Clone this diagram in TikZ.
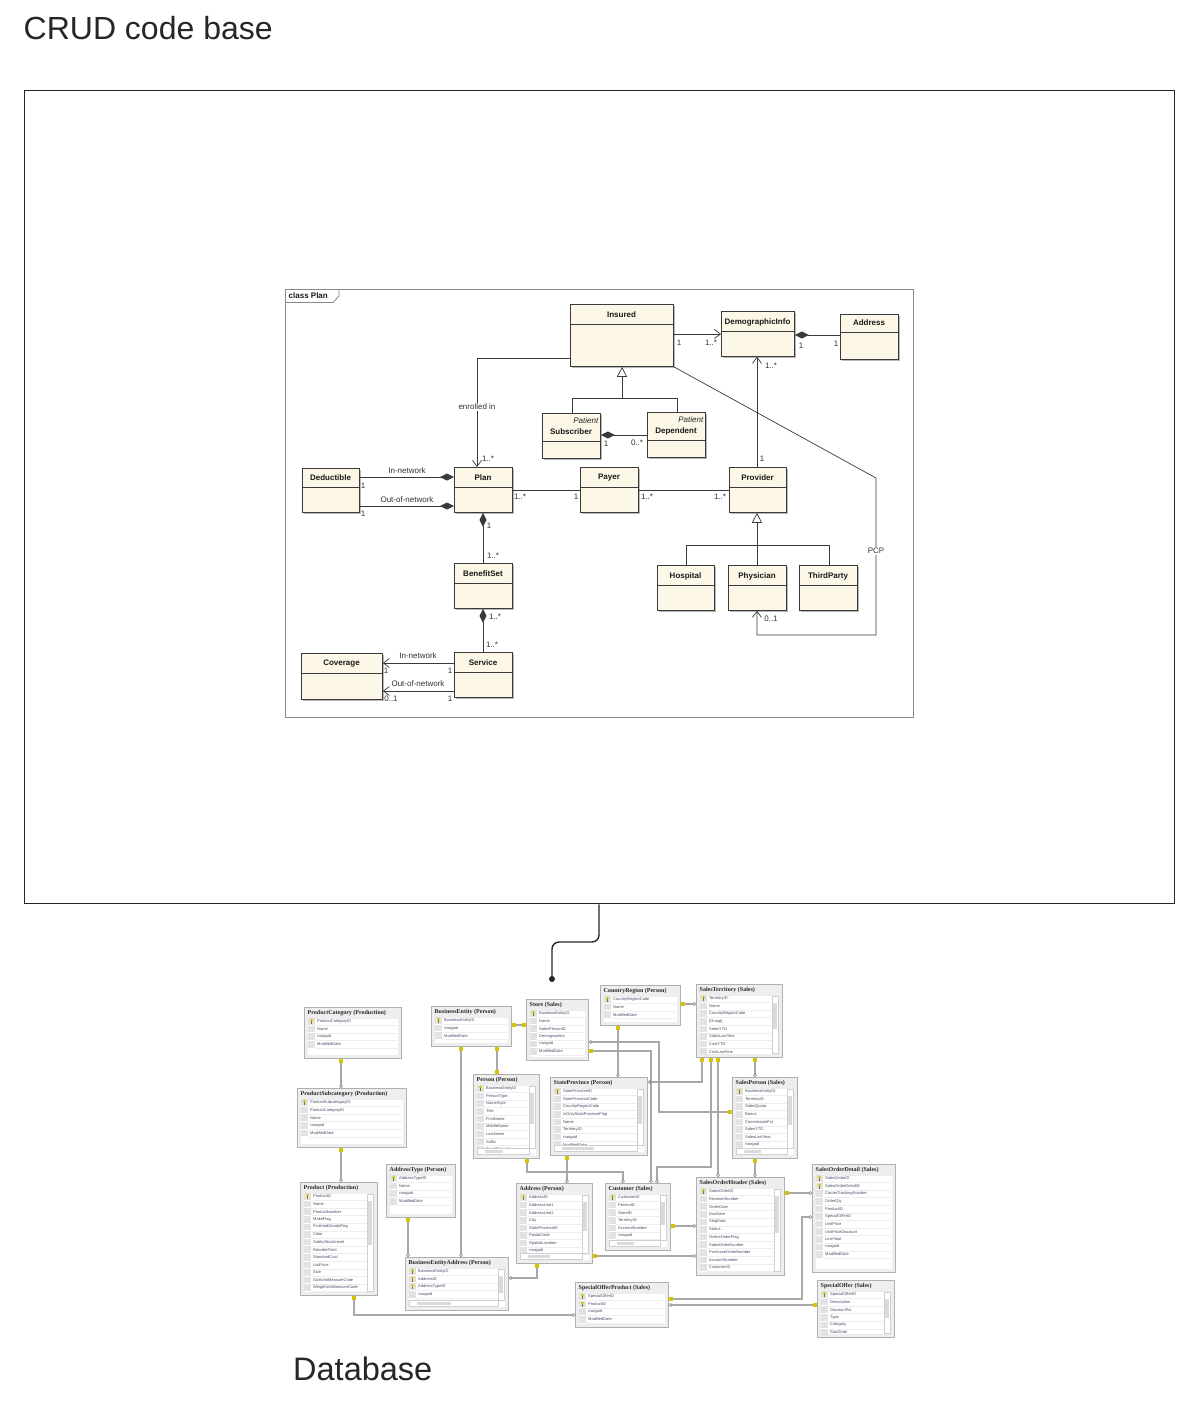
\documentclass[tikz,border=0pt]{standalone}
\usepackage{fontspec}
\setmainfont{Liberation Sans}
\newfontfamily\dbfont{Liberation Serif}
\usetikzlibrary{arrows.meta,calc}
\definecolor{cream}{HTML}{FCF7E6}
\definecolor{umlline}{HTML}{3A3A3A}
\definecolor{umltext}{HTML}{333333}
\definecolor{framegrey}{HTML}{8A8A8A}
\definecolor{shadowc}{HTML}{B8B8B8}
\definecolor{relgrey}{HTML}{A8A8A8}
\definecolor{keyyel}{HTML}{D6C400}
\definecolor{tblborder}{HTML}{B0B0B0}
\definecolor{tblbg}{HTML}{EEEEEE}
\definecolor{rowtxt}{HTML}{4A4A66}
\definecolor{rowsel}{HTML}{E2E2E2}
\definecolor{rowline}{HTML}{EDEDED}
\definecolor{scrollc}{HTML}{CFCFCF}
\definecolor{thumbc}{HTML}{DADADA}

\newcommand\umlclass[7]{%
  \fill[shadowc] (#2+2,#3+2) rectangle (#4+2,#5+2);
  \node[clsbox, minimum width={(#4-#2)*1pt}, minimum height={(#5-#3)*1pt}, anchor=north west] (#1) at (#2,#3) {};
  \draw[umlline, line width=0.7pt] (#2,#3+#6) -- (#4,#3+#6);
  \node[clsname] (#1-name) at ({(#2+#4)/2},#3+#6-9) {#7};
}
\newcommand\keyicon[2]{%
  \fill[keyyel] (#1,#2-1.3) circle (1.5pt);
  \draw[keyyel!60!black, line width=0.5pt] (#1,#2-0.2) -- (#1,#2+2.6);
}
\newcommand\dbtable[9]{%
  \node[tbl, minimum width={(#4-#2)*1pt}, minimum height={(#5-#3)*1pt}, anchor=north west] (#1) at (#2,#3) {};
  \fill[white] (#2+3,#3+11.5) rectangle (#4-3,#5-3);
  \draw[rowline] (#2+3,#3+11.5) rectangle (#4-3,#5-3);
  \node[tbltitle, anchor=west] (#1-title) at (#2+3.5,#3+6.5) {#6};
  \foreach \r [count=\i] in {#9} {
    \pgfmathsetmacro\ry{#3+14.5+(\i-1)*7.6}
    \fill[rowsel] (#2+4,\ry-3.3) rectangle (#2+11,\ry+3.3);
    \draw[rowline, line width=0.4pt] (#2+11,\ry+3.8) -- (#4-4,\ry+3.8);
    \node[rowtext, anchor=west] (#1-r\i) at (#2+13,\ry) {\r};
    \ifnum\i>#7\else\keyicon{#2+7.5}{\ry}\fi
  }
  \ifnum#8>1 \def\dbvb{10}\else\def\dbvb{4}\fi
  \ifnum#8>0
    \filldraw[fill=white, draw=scrollc, line width=0.4pt] (#4-10,#3+12.5) rectangle (#4-4,#5-\dbvb);
    \fill[thumbc] (#4-9,#3+19) rectangle (#4-5,{#3+12+0.45*(#5-#3)});
  \fi
  \ifnum#8>1
    \filldraw[fill=white, draw=scrollc, line width=0.4pt] (#2+4,#5-9.5) rectangle (#4-10,#5-4);
    \fill[thumbc] (#2+12,#5-8.5) rectangle ({#2+0.45*(#4-#2)},#5-5);
  \fi
}

\begin{document}
\begin{tikzpicture}[x=1pt,y=-1pt,
  every node/.style={inner sep=0pt},
  clsbox/.style={draw=umlline, fill=cream, line width=0.8pt},
  clsname/.style={font=\bfseries\fontsize{8}{9.6}\selectfont, text=black!90},
  stereo/.style={font=\itshape\fontsize{8}{9.6}\selectfont, text=black!85},
  lbl/.style={font=\fontsize{8}{9.6}\selectfont, text=umltext},
  assoc/.style={draw=umlline, line width=0.7pt},
  nav/.style={-{Straight Barb[length=6pt,width=9pt,line width=0.7pt]}},
  compS/.style={{Diamond[length=14pt,width=7pt]}-},
  compE/.style={-{Diamond[length=14pt,width=7pt]}},
  gen/.style={-{Triangle[open,length=10pt,width=10pt,fill=white]}},
  tbl/.style={draw=tblborder, fill=tblbg, line width=0.9pt},
  tbltitle/.style={font=\dbfont\bfseries\fontsize{6}{7}\selectfont, text=black!85},
  rowtext/.style={font=\fontsize{4}{5}\selectfont, text=rowtxt},
  dbrel/.style={draw=relgrey, line width=1.4pt,
    {Circle[open,length=3.5pt,width=3.5pt,line width=0.6pt,color=gray]}-{Rectangle[length=4pt,width=4.5pt,color=keyyel]}},
  dbrelkk/.style={draw=relgrey, line width=1.4pt,
    {Rectangle[length=4pt,width=4.5pt,color=keyyel]}-{Rectangle[length=4pt,width=4.5pt,color=keyyel]}}
]
\useasboundingbox (0,0) rectangle (1202,1408);
\fill[white] (0,0) rectangle (1202,1408);

% titles
\node[anchor=base west, font=\fontsize{32}{38}\selectfont, text=black!85] (title) at (23.5,39.5) {CRUD code base};
\node[anchor=base west, font=\fontsize{32.5}{39}\selectfont, text=black!85] (dblabel) at (293,1380) {Database};

% outer frame
\node[draw=black!85, line width=1.4pt, minimum width=1150pt, minimum height=813pt, anchor=north west] (frame) at (24,90) {};

% connector to database
\node[circle, fill=black!85, minimum size=6pt] (dot) at (552,979) {};
\draw[line width=1.4pt, black!85, rounded corners=7pt] (599,0 |- frame.south) |- (552,942) -- (dot.center);

% ---------------- UML class diagram ----------------
\node[draw=framegrey, line width=0.9pt, fill=white, minimum width=628pt, minimum height=428pt, anchor=north west] (umlframe) at (285,289) {};
\draw[framegrey, line width=0.8pt] (285,302.5) -- (333,302.5) -- (339,296) -- (339,289);
\node[anchor=west, font=\bfseries\fontsize{8}{9.6}\selectfont, text=black!90] (umltab) at (288.5,296) {class Plan};

\umlclass{insured}{570}{304}{673}{366}{20}{Insured}
\umlclass{demo}{721}{311}{794}{356}{20}{DemographicInfo}
\umlclass{address}{840}{314}{898}{359}{18}{Address}
\umlclass{subscriber}{542}{413}{600}{458}{28}{Subscriber}
\umlclass{dependent}{647}{412}{705}{457}{28}{Dependent}
\umlclass{deductible}{302}{468}{359}{512}{19}{Deductible}
\umlclass{plan}{454}{467}{512}{512}{20}{Plan}
\umlclass{payer}{580}{467}{638}{512}{20}{Payer}
\umlclass{provider}{729}{467}{786}{512}{20}{Provider}
\umlclass{benefit}{454}{563}{512}{608}{20}{BenefitSet}
\umlclass{service}{454}{652}{512}{697}{20}{Service}
\umlclass{coverage}{301}{653}{382}{699}{20}{Coverage}
\umlclass{hospital}{657}{565}{714}{610}{20}{Hospital}
\umlclass{physician}{728}{565}{786}{610}{20}{Physician}
\umlclass{thirdparty}{799}{565}{857}{610}{20}{ThirdParty}
\node[stereo, anchor=east] (subscriber-st) at (598.5,421) {Patient};
\node[stereo, anchor=east] (dependent-st) at (703.5,420) {Patient};

% Insured -> DemographicInfo
\draw[assoc, nav] (insured.east |- 0,334) -- (demo.west |- 0,334);
\node[lbl] (m1) at (679,343) {1};
\node[lbl] (m2) at (711,343) {1..*};
% DemographicInfo <>-- Address
\draw[assoc, compS] (demo.east |- 0,335) -- (address.west |- 0,335);
\node[lbl] (m3) at (801,346) {1};
\node[lbl] (m4) at (836,344) {1};
% enrolled in
\draw[assoc, nav] (insured.west |- 0,358) -| (477,0 |- plan.north);
\node[lbl, fill=white, inner sep=1pt] (enr) at (477,407) {enrolled in};
\node[lbl] (m5) at (488,459) {1..*};
% generalization Insured
\coordinate (g1) at (622,398);
\draw[assoc, gen] (g1) -- (622,0 |- insured.south);
\draw[assoc] (572,0 |- subscriber.north) |- (677,398) -- (677,0 |- dependent.north);
% Subscriber <>-- Dependent
\draw[assoc, compS] (subscriber.east |- 0,435) -- (dependent.west |- 0,435);
\node[lbl] (m6) at (606,444) {1};
\node[lbl] (m7) at (637,443) {0..*};
% Deductible -- Plan
\draw[assoc, compE] (deductible.east |- 0,477) -- (plan.west |- 0,477);
\node[lbl] (innet1) at (407,471) {In-network};
\node[lbl] (m8) at (363,486) {1};
\draw[assoc, compE] (deductible.east |- 0,506) -- (plan.west |- 0,506);
\node[lbl] (outnet1) at (407,500) {Out-of-network};
\node[lbl] (m9) at (363,514) {1};
% Plan -- Payer -- Provider
\draw[assoc] (plan.east |- 0,490) -- (payer.west |- 0,490);
\node[lbl] (m10) at (520,497) {1..*};
\node[lbl] (m11) at (576,497) {1};
\draw[assoc] (payer.east |- 0,490) -- (provider.west |- 0,490);
\node[lbl] (m12) at (647,497) {1..*};
\node[lbl] (m13) at (720,497) {1..*};
% Provider -> DemographicInfo
\draw[assoc, nav] (757,0 |- provider.north) -- (757,0 |- demo.south);
\node[lbl] (m14) at (771,366) {1..*};
\node[lbl] (m15) at (762,459) {1};
% PCP
\coordinate (pcp1) at (876,478);
\coordinate (pcp2) at (876,635);
\draw[assoc, nav] (insured.south east) -- (pcp1) -- (pcp2) -| (757,0 |- physician.south);
\node[lbl, fill=white, inner sep=1pt] (pcp) at (876,551) {PCP};
\node[lbl] (m16) at (771,619) {0..1};
% generalization Provider
\coordinate (g2) at (757,545);
\draw[assoc, gen] (g2) -- (757,0 |- provider.south);
\draw[assoc] (686,0 |- hospital.north) |- (829,545) -- (829,0 |- thirdparty.north);
\draw[assoc] (757,0 |- physician.north) -- (g2);
% Plan <>-- BenefitSet
\draw[assoc, compS] (483,0 |- plan.south) -- (483,0 |- benefit.north);
\node[lbl] (m17) at (489,526) {1};
\node[lbl] (m18) at (493,556) {1..*};
% BenefitSet <>-- Service
\draw[assoc, compS] (483,0 |- benefit.south) -- (483,0 |- service.north);
\node[lbl] (m19) at (495,617) {1..*};
\node[lbl] (m20) at (492,645) {1..*};
% Service -> Coverage
\draw[assoc, nav] (service.west |- 0,663) -- (coverage.east |- 0,663);
\node[lbl] (innet2) at (418,656) {In-network};
\node[lbl] (m21) at (386,671) {1};
\node[lbl] (m22) at (450,671) {1};
\draw[assoc, nav] (service.west |- 0,691) -- (coverage.east |- 0,691);
\node[lbl] (outnet2) at (418,684) {Out-of-network};
\node[lbl] (m23) at (391,699) {0..1};
\node[lbl] (m24) at (450,699) {1};

% ---------------- Database diagram ----------------
\dbtable{pcat}{304}{1007}{401}{1058}{ProductCategory (Production)}{1}{0}{ProductCategoryID,Name,rowguid,ModifiedDate}
\dbtable{psub}{297}{1088}{406}{1147}{ProductSubcategory (Production)}{1}{0}{ProductSubcategoryID,ProductCategoryID,Name,rowguid,ModifiedDate}
\dbtable{prod}{300}{1182}{377}{1295}{Product (Production)}{1}{1}{ProductID,Name,ProductNumber,MakeFlag,FinishedGoodsFlag,Color,SafetyStockLevel,ReorderPoint,StandardCost,ListPrice,Size,SizeUnitMeasureCode,WeightUnitMeasureCode}
\dbtable{atype}{386}{1164}{455}{1217}{AddressType (Person)}{1}{0}{AddressTypeID,Name,rowguid,ModifiedDate}
\dbtable{bent}{431}{1006}{511}{1046}{BusinessEntity (Person)}{1}{0}{BusinessEntityID,rowguid,ModifiedDate}
\dbtable{store}{526}{999}{588}{1060}{Store (Sales)}{1}{0}{BusinessEntityID,Name,SalesPersonID,Demographics,rowguid,ModifiedDate}
\dbtable{creg}{600}{985}{680}{1025}{CountryRegion (Person)}{1}{0}{CountryRegionCode,Name,ModifiedDate}
\dbtable{sterr}{696}{984}{782}{1057}{SalesTerritory (Sales)}{1}{1}{TerritoryID,Name,CountryRegionCode,[Group],SalesYTD,SalesLastYear,CostYTD,CostLastYear}
\dbtable{person}{473}{1074}{539}{1158}{Person (Person)}{1}{2}{BusinessEntityID,PersonType,NameStyle,Title,FirstName,MiddleName,LastName,Suffix,EmailPromotion}
\dbtable{stprov}{550}{1077}{647}{1155}{StateProvince (Person)}{1}{2}{StateProvinceID,StateProvinceCode,CountryRegionCode,IsOnlyStateProvinceFlag,Name,TerritoryID,rowguid,ModifiedDate}
\dbtable{sper}{732}{1077}{797}{1158}{SalesPerson (Sales)}{1}{2}{BusinessEntityID,TerritoryID,SalesQuota,Bonus,CommissionPct,SalesYTD,SalesLastYear,rowguid}
\dbtable{addr}{516}{1183}{592}{1263}{Address (Person)}{1}{2}{AddressID,AddressLine1,AddressLine2,City,StateProvinceID,PostalCode,SpatialLocation,rowguid}
\dbtable{cust}{605}{1183}{670}{1250}{Customer (Sales)}{1}{2}{CustomerID,PersonID,StoreID,TerritoryID,AccountNumber,rowguid}
\dbtable{soh}{696}{1177}{784}{1275}{SalesOrderHeader (Sales)}{1}{1}{SalesOrderID,RevisionNumber,OrderDate,DueDate,ShipDate,Status,OnlineOrderFlag,SalesOrderNumber,PurchaseOrderNumber,AccountNumber,CustomerID}
\dbtable{sod}{812}{1164}{895}{1272}{SalesOrderDetail (Sales)}{2}{0}{SalesOrderID,SalesOrderDetailID,CarrierTrackingNumber,OrderQty,ProductID,SpecialOfferID,UnitPrice,UnitPriceDiscount,LineTotal,rowguid,ModifiedDate}
\dbtable{bea}{405}{1257}{508}{1310}{BusinessEntityAddress (Person)}{3}{2}{BusinessEntityID,AddressID,AddressTypeID,rowguid}
\dbtable{sop}{575}{1282}{668}{1327}{SpecialOfferProduct (Sales)}{2}{0}{SpecialOfferID,ProductID,rowguid,ModifiedDate}
\dbtable{soff}{817}{1280}{894}{1337}{SpecialOffer (Sales)}{1}{1}{SpecialOfferID,Description,DiscountPct,Type,Category,StartDate}

% relationships
\draw[dbrel] (341,0 |- psub.north) -- (341,0 |- pcat.south);
\draw[dbrel] (341,0 |- prod.north) -- (341,0 |- psub.south);
\draw[dbrelkk] (store.west |- 0,1025) -- (bent.east |- 0,1025);
\draw[dbrel] (461,0 |- bea.north) -- (461,0 |- bent.south);
\draw[dbrelkk] (497,0 |- person.north) -- (497,0 |- bent.south);
\draw[dbrel] (408,0 |- bea.north) -- (408,0 |- atype.south);
\draw[dbrel] (bea.east |- 0,1278) -| (537,0 |- addr.south);
\draw[dbrel] (sop.west |- 0,1315) -| (354,0 |- prod.south);
\draw[dbrel] (store.east |- 0,1042) -| (659,1112) -- (sper.west |- 0,1112);
\draw[dbrel] (651,0 |- cust.north) |- (store.east |- 0,1051);
\draw[dbrel] (sterr.west |- 0,1004) -- (creg.east |- 0,1004);
\draw[dbrel] (618,0 |- stprov.north) -- (618,0 |- creg.south);
\draw[dbrel] (stprov.east |- 0,1082) -| (702,0 |- sterr.south);
\draw[dbrel] (657,0 |- cust.north) |- (711,1167) -- (711,0 |- sterr.south);
\draw[dbrel] (718,0 |- soh.north) -- (718,0 |- sterr.south);
\draw[dbrel] (755,0 |- sper.north) -- (755,0 |- sterr.south);
\draw[dbrel] (755,0 |- soh.north) -- (755,0 |- sper.south);
\draw[dbrel] (623,0 |- cust.north) |- (527,1172) -- (527,0 |- person.south);
\draw[dbrel] (567,0 |- addr.north) -- (567,0 |- stprov.south);
\draw[dbrel] (soh.west |- 0,1226) -- (cust.east |- 0,1226);
\draw[dbrel] (soh.west |- 0,1256) -- (addr.east |- 0,1256);
\draw[dbrel] (sod.west |- 0,1193) -- (soh.east |- 0,1193);
\draw[dbrel] (sod.west |- 0,1217) -| (802,1299) -- (sop.east |- 0,1299);
\draw[dbrel] (sop.east |- 0,1305) -- (soff.west |- 0,1305);
\end{tikzpicture}
\end{document}
